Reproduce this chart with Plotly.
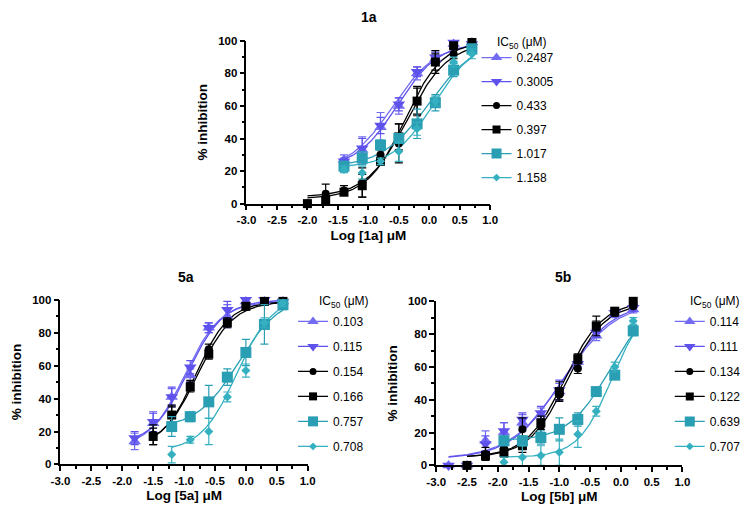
import numpy as np
import plotly.graph_objects as go

# ---------------- data ----------------
# Panel 1a
ic50_1a = [0.2487, 0.3005, 0.433, 0.397, 1.017, 1.158]
x_1a_short = [-1.4, -1.1, -0.8, -0.5, -0.2, 0.1, 0.4, 0.7]
x_1a_long = [-2.0, -1.7, -1.4, -1.1, -0.8, -0.5, -0.2, 0.1, 0.4, 0.7]
y_1a_up = [27, 33, 47, 60, 80, 89, 98, 99]
e_1a_up = [3, 8, 9, 5, 4, 4, 2, 2]
y_1a_down = [26, 34, 48, 61, 81, 90, 99, 98]
e_1a_down = [2, 6, 5, 4, 3, 3, 2, 2]
y_1a_circle = [0, 6, 8, 13, 30, 37, 63, 87, 92, 97]
e_1a_circle = [1, 6, 3, 9, 3, 12, 8, 7, 3, 2]
y_1a_square = [0, 2, 7, 11, 26, 41, 63, 87, 97, 99]
e_1a_square = [1, 2, 2, 7, 2, 8, 9, 5, 2, 2]
y_1a_tsq = [23, 28, 36, 40, 49, 62, 82, 95]
e_1a_tsq = [3, 4, 3, 3, 9, 5, 4, 3]
y_1a_dia = [21, 19, 26, 32, 46, 63, 87, 92]
e_1a_dia = [2, 4, 2, 6, 4, 3, 3, 3]
bottom_1a = [20, 22, 4, 3, 22, 22]
top_1a = [99, 99, 99, 100, 102, 100]
hill_1a = [1.2, 1.3, 1.3, 1.4, 1.1, 1.3]

# Panel 5a
ic50_5a = [0.103, 0.115, 0.154, 0.166, 0.757, 0.708]
x_5a_p = [-1.8, -1.5, -1.2, -0.9, -0.6, -0.3, 0.0, 0.3, 0.6]
x_5a_b = [-1.5, -1.2, -0.9, -0.6, -0.3, 0.0, 0.3, 0.6]
x_5a_t = [-1.2, -0.9, -0.6, -0.3, 0.0, 0.3, 0.6]
y_5a_up = [14, 25, 41, 54, 83, 90, 99, 99, 99]
e_5a_up = [5, 6, 5, 4, 3, 7, 2, 1, 1]
y_5a_down = [16, 26, 41, 59, 83, 94, 100, 100, 99]
e_5a_down = [4, 6, 6, 4, 3, 5, 2, 1, 1]
y_5a_circle = [18, 30, 48, 70, 86, 96, 99, 98]
e_5a_circle = [6, 6, 3, 3, 3, 2, 1, 1]
y_5a_square = [17, 30, 47, 67, 86, 96, 99, 99]
e_5a_square = [5, 5, 3, 3, 2, 2, 1, 1]
y_5a_tsq = [23, 29, 38, 53, 68, 85, 97]
e_5a_tsq = [6, 3, 10, 5, 8, 12, 3]
y_5a_dia = [6, 15, 20, 41, 57, 86, 98]
e_5a_dia = [5, 2, 8, 3, 4, 3, 2]
bottom_5a = [10, 12, 10, 10, 22, 8]
top_5a = [99, 100, 99, 99, 102, 102]
hill_5a = [1.5, 1.5, 1.6, 1.5, 1.3, 1.5]

# Panel 5b
ic50_5b = [0.114, 0.111, 0.134, 0.122, 0.639, 0.707]
x_5b_p = [-2.8, -2.5, -2.2, -1.9, -1.6, -1.3, -1.0, -0.7, -0.4, -0.1, 0.2]
x_5b_b = [-2.5, -2.2, -1.9, -1.6, -1.3, -1.0, -0.7, -0.4, -0.1, 0.2]
x_5b_t = [-1.9, -1.6, -1.3, -1.0, -0.7, -0.4, -0.1, 0.2]
y_5b_up = [0, 0, 15, 20, 26, 31, 45, 63, 79, 92, 95]
e_5b_up = [1, 1, 6, 6, 5, 4, 5, 3, 3, 2, 2]
y_5b_down = [0, 0, 13, 21, 28, 32, 46, 62, 81, 93, 96]
e_5b_down = [1, 1, 5, 5, 4, 4, 6, 3, 3, 2, 2]
y_5b_circle = [0, 7, 10, 22, 24, 43, 59, 85, 93, 97]
e_5b_circle = [1, 4, 3, 7, 4, 3, 3, 3, 2, 1]
y_5b_square = [0, 6, 8, 12, 26, 45, 65, 85, 94, 100]
e_5b_square = [1, 2, 3, 4, 4, 6, 3, 6, 2, 1]
y_5b_tsq = [15, 15, 17, 22, 28, 45, 55, 82]
e_5b_tsq = [3, 3, 4, 7, 4, 2, 2, 3]
y_5b_dia = [2, 5, 6, 8, 19, 33, 60, 88]
e_5b_dia = [3, 7, 6, 8, 8, 3, 3, 2]
bottom_5b = [4, 4, 5, 5, 15, 5]
top_5b = [100, 100, 99, 100, 100, 100]
hill_5b = [1.0, 1.05, 1.4, 1.4, 1.3, 1.6]

panel_titles = ["1a", "5a", "5b"]
x_titles = ["Log [1a] μM", "Log [5a] μM", "Log [5b] μM"]
x_ticks = [-3.0, -2.5, -2.0, -1.5, -1.0, -0.5, 0.0, 0.5, 1.0]
y_ticks = [0, 20, 40, 60, 80, 100]

# ---------------- styles ----------------
FONT = "Liberation Sans, Arial, sans-serif"
colors = ["#736cf2", "#5f52ec", "#000000", "#000000", "#2a9fb4", "#35b0c0"]
symbols = ["triangle-up", "triangle-down", "circle", "square", "square", "diamond"]
msizes = [11, 11, 8, 9, 11, 7]

panels = [
    dict(xs=[x_1a_short, x_1a_short, x_1a_long, x_1a_long, x_1a_short, x_1a_short],
         ys=[y_1a_up, y_1a_down, y_1a_circle, y_1a_square, y_1a_tsq, y_1a_dia],
         es=[e_1a_up, e_1a_down, e_1a_circle, e_1a_square, e_1a_tsq, e_1a_dia],
         ic50=ic50_1a, bottom=bottom_1a, top=top_1a, hill=hill_1a),
    dict(xs=[x_5a_p, x_5a_p, x_5a_b, x_5a_b, x_5a_t, x_5a_t],
         ys=[y_5a_up, y_5a_down, y_5a_circle, y_5a_square, y_5a_tsq, y_5a_dia],
         es=[e_5a_up, e_5a_down, e_5a_circle, e_5a_square, e_5a_tsq, e_5a_dia],
         ic50=ic50_5a, bottom=bottom_5a, top=top_5a, hill=hill_5a),
    dict(xs=[x_5b_p, x_5b_p, x_5b_b, x_5b_b, x_5b_t, x_5b_t],
         ys=[y_5b_up, y_5b_down, y_5b_circle, y_5b_square, y_5b_tsq, y_5b_dia],
         es=[e_5b_up, e_5b_down, e_5b_circle, e_5b_square, e_5b_tsq, e_5b_dia],
         ic50=ic50_5b, bottom=bottom_5b, top=top_5b, hill=hill_5b),
]

W, H = 750, 519
def px(x):
    return x / W
def py(y):
    return 1 - y / H

# pixel boxes of each plotting area: (left, right, bottom, top)
boxes = [(242.3, 492.0, 202.3, 35.7), (51.7, 305.0, 469.3, 300.7), (436.7, 689.0, 470.3, 302.3)]
legend_pos = [(478, 38), (290, 308), (676, 308)]
legend_gap = [5, 6, 6]
header_pos = [(497, 38), (315, 303), (695, 303)]
title_pos = [(368, 11), (180, 277), (567, 277)]
ytitle_std = [7, 7, 7]

fig = go.Figure()
for p_i, p in enumerate(panels):
    xa = "x" if p_i == 0 else f"x{p_i+1}"
    ya = "y" if p_i == 0 else f"y{p_i+1}"
    leg = "legend" if p_i == 0 else f"legend{p_i+1}"
    # fitted curves (four-parameter logistic from the reported IC50 values)
    for s in range(6):
        xx = np.linspace(min(p["xs"][s]), max(p["xs"][s]), 200)
        logic = np.log10(p["ic50"][s])
        yy = p["bottom"][s] + (p["top"][s] - p["bottom"][s]) / (1 + 10 ** ((logic - xx) * p["hill"][s]))
        fig.add_trace(go.Scatter(x=xx, y=yy, mode="lines", xaxis=xa, yaxis=ya,
                                 line=dict(color=colors[s], width=1.3),
                                 showlegend=False, hoverinfo="skip"))
    # points with error bars
    for s in range(6):
        fig.add_trace(go.Scatter(
            x=p["xs"][s], y=p["ys"][s], mode="markers", xaxis=xa, yaxis=ya,
            marker=dict(symbol=symbols[s], size=msizes[s], color=colors[s], line=dict(width=0)),
            error_y=dict(type="data", array=p["es"][s], color=colors[s], thickness=1.2, width=4),
            cliponaxis=False, showlegend=False))
    # legend entries
    for s in range(6):
        fig.add_trace(go.Scatter(
            x=[None], y=[None], mode="lines+markers", xaxis=xa, yaxis=ya,
            name=f"{p['ic50'][s]}", legend=leg, legendgroup=f"{p_i}_{s}",
            line=dict(color=colors[s], width=1.3),
            marker=dict(symbol=symbols[s], size=msizes[s] - 1, color=colors[s])))

layout = dict(
    width=W, height=H, margin=dict(l=0, r=0, t=0, b=0),
    paper_bgcolor="white", plot_bgcolor="white",
    font=dict(family=FONT, color="black"),
    annotations=[],
)

for p_i in range(3):
    l, r, b, t = boxes[p_i]
    xk = "xaxis" if p_i == 0 else f"xaxis{p_i+1}"
    yk = "yaxis" if p_i == 0 else f"yaxis{p_i+1}"
    xa = "x" if p_i == 0 else f"x{p_i+1}"
    ya = "y" if p_i == 0 else f"y{p_i+1}"
    layout[xk] = dict(
        domain=[px(l), px(r)], anchor=ya, range=[-3, 1],
        tickvals=x_ticks, ticktext=[f"{v:.1f}" for v in x_ticks],
        showgrid=False, zeroline=False, showline=True, linecolor="black", linewidth=1.6,
        ticks="outside", ticklen=5, tickwidth=1.5, tickcolor="black",
        minor=dict(dtick=0.25, tick0=-3, ticks="outside", ticklen=3, tickwidth=1.5, tickcolor="black", showgrid=False),
        tickfont=dict(family=FONT, size=11.5, color="black", weight="bold"),
        title=dict(text=x_titles[p_i], font=dict(family=FONT, size=13.5, color="black", weight="bold"), standoff=5),
    )
    layout[yk] = dict(
        domain=[py(b), py(t)], anchor=xa, range=[0, 100],
        tickvals=y_ticks,
        showgrid=False, zeroline=False, showline=True, linecolor="black", linewidth=1.6,
        ticks="outside", ticklen=5, tickwidth=1.5, tickcolor="black",
        minor=dict(dtick=10, tick0=0, ticks="outside", ticklen=3, tickwidth=1.5, tickcolor="black", showgrid=False),
        tickfont=dict(family=FONT, size=11.5, color="black", weight="bold"),
        title=dict(text="% inhibition", font=dict(family=FONT, size=13.5, color="black", weight="bold"), standoff=ytitle_std[p_i]),
    )
    lk = "legend" if p_i == 0 else f"legend{p_i+1}"
    lx, ly = legend_pos[p_i]
    layout[lk] = dict(x=px(lx), y=py(ly), xanchor="left", yanchor="top",
                      bgcolor="rgba(0,0,0,0)", borderwidth=0, itemwidth=30,
                      tracegroupgap=legend_gap[p_i], font=dict(family=FONT, size=12, color="black"),
                      itemclick=False, itemdoubleclick=False)
    hx, hy = header_pos[p_i]
    layout["annotations"].append(dict(
        x=px(hx), y=py(hy), xref="paper", yref="paper", xanchor="left", yanchor="middle",
        text="IC<sub>50</sub> (μM)", showarrow=False, font=dict(family=FONT, size=12, color="black")))
    tx, ty = title_pos[p_i]
    layout["annotations"].append(dict(
        x=px(tx), y=py(ty), xref="paper", yref="paper", xanchor="center", yanchor="middle",
        text=f"<b>{panel_titles[p_i]}</b>", showarrow=False, font=dict(family=FONT, size=14, color="black")))

fig.update_layout(**layout)
fig.write_html("out.html")
